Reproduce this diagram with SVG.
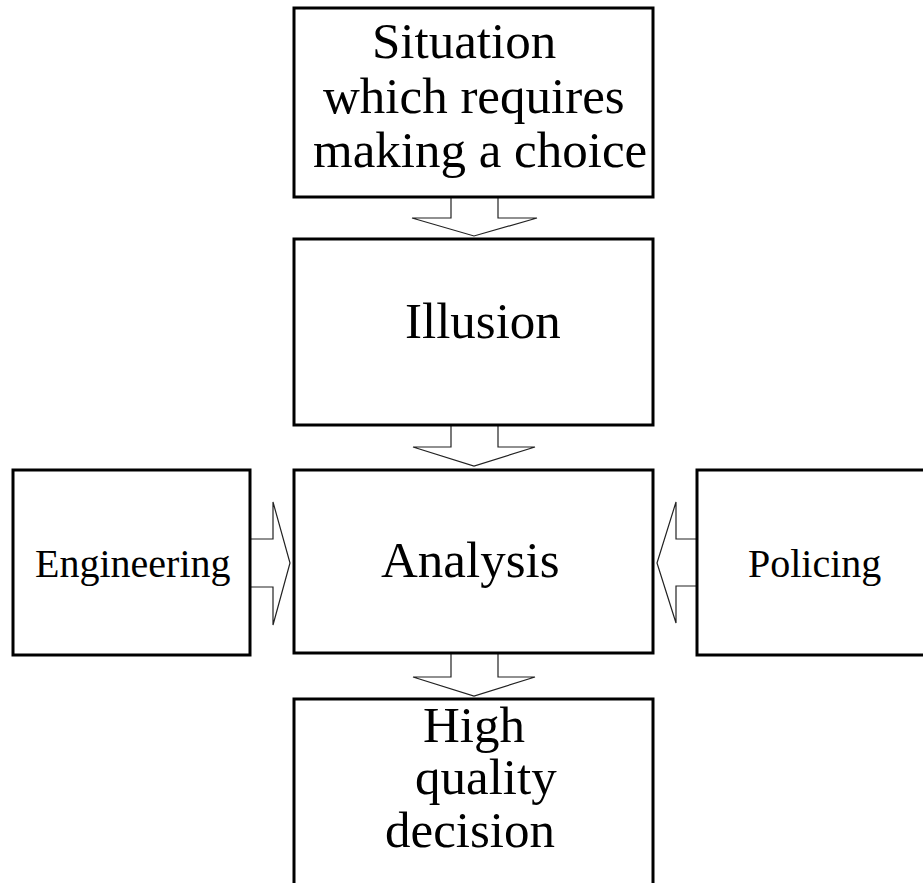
<svg xmlns="http://www.w3.org/2000/svg" width="923" height="883" viewBox="0 0 923 883">
<style>
.box{fill:#fff;stroke:#000;stroke-width:3}
.arr{fill:#fff;stroke:#222;stroke-width:1.2;stroke-linejoin:miter}
.t{font-family:"Liberation Serif","Times New Roman",serif;fill:#000}
.big{font-size:51px}
.small{font-size:40px}
</style>
<rect width="923" height="883" fill="#fff"/>
<g id="connectors">
<polyline class="arr" points="451,197 451,218 412,218 474,236 537,218 498,218 498,197"/>
<polyline class="arr" points="451,425 451,447 413,447 474,466 535,447 498,447 498,425"/>
<polyline class="arr" points="451,653 451,677 413,677 474,696 535,677 498,677 498,653"/>
<polyline class="arr" points="250,539 273,539 273,502 290,563 273,625 273,587 250,587"/>
<polyline class="arr" points="697,539 676,539 676,502 657,563 676,623 676,586 697,586"/>
</g>
<g id="situation">
<rect class="box" x="294" y="8" width="359" height="189"/>
<text class="t big" x="372" y="58">Situation</text>
<text class="t big" x="323" y="113">which requires</text>
<text class="t big" x="313" y="167">making a choice</text>
</g>
<g id="illusion">
<rect class="box" x="294" y="239" width="359" height="186"/>
<text class="t big" x="405" y="338">Illusion</text>
</g>
<g id="analysis">
<rect class="box" x="294" y="470" width="359" height="183"/>
<text class="t big" x="381" y="577">Analysis</text>
</g>
<g id="engineering">
<rect class="box" x="13" y="470" width="237" height="185"/>
<text class="t small" x="35" y="577">Engineering</text>
</g>
<g id="policing">
<rect class="box" x="697" y="470" width="240" height="185"/>
<text class="t small" x="748" y="577">Policing</text>
</g>
<g id="decision">
<rect class="box" x="294" y="699" width="359" height="200"/>
<text class="t big" x="423" y="742">High</text>
<text class="t big" x="415" y="794">quality</text>
<text class="t big" x="385" y="847">decision</text>
</g>
</svg>
